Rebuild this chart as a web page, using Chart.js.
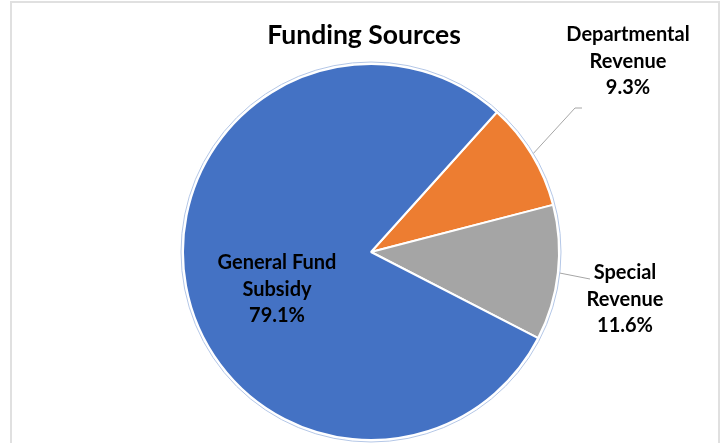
<!DOCTYPE html>
<html>
<head>
<meta charset="utf-8">
<script src="https://cdn.jsdelivr.net/npm/chart.js@4"></script>
<style>
  html, body { margin: 0; padding: 0; background: #fff; }
  #wrap { position: relative; width: 724px; height: 443px; overflow: hidden; }
  #frame {
    position: absolute; left: 10px; top: 1px; width: 706px; height: 460px;
    border: 2px solid #e0e0e0; border-bottom: none; pointer-events: none;
  }
  canvas { position: absolute; left: 0; top: 0; }
</style>
</head>
<body>
<div id="wrap">
  <canvas id="chart" width="724" height="443"></canvas>
  <div id="frame"></div>
</div>
<script>
const sources = ['Departmental Revenue', 'Special Revenue', 'General Fund Subsidy']
const shares = [9.3, 11.6, 79.1]
const sliceColors = ['#ED7D31', '#A5A5A5', '#4472C4']

// label blocks: lines of text, centre x, first line y
const labelBlocks = [
  { lines: ['Departmental', 'Revenue', '9.3%'], x: 628, y: 35, leader: [[575, 108], [582, 108]] },
  { lines: ['Special', 'Revenue', '11.6%'], x: 625, y: 273, leader: [[590, 279]] },
  { lines: ['General Fund', 'Subsidy', '79.1%'], x: 277, y: 263, leader: null }
]

const FONT = 'Lato, "Open Sans", sans-serif'

const decorations = {
  id: 'decorations',
  afterDatasetsDraw(chart) {
    const ctx = chart.ctx
    const arcs = chart.getDatasetMeta(0).data
    const a0 = arcs[0]

    // thin pale ring round the whole pie
    ctx.save()
    ctx.beginPath()
    ctx.arc(a0.x, a0.y, a0.outerRadius + 2, 0, Math.PI * 2)
    ctx.strokeStyle = '#b4c7e7'
    ctx.lineWidth = 1
    ctx.stroke()

    // title
    ctx.fillStyle = '#000'
    ctx.textAlign = 'center'
    ctx.textBaseline = 'middle'
    ctx.font = 'bold 26.5px ' + FONT
    ctx.fillText('Funding Sources', 364, 35)

    labelBlocks.forEach((b, i) => {
      const arc = arcs[i]
      if (b.leader) {
        const mid = (arc.startAngle + arc.endAngle) / 2
        const r = arc.outerRadius + 2
        ctx.beginPath()
        ctx.moveTo(arc.x + Math.cos(mid) * r, arc.y + Math.sin(mid) * r)
        b.leader.forEach(p => ctx.lineTo(p[0], p[1]))
        ctx.strokeStyle = '#a6a6a6'
        ctx.lineWidth = 1
        ctx.stroke()
      }
      ctx.font = 'bold 20px ' + FONT
      ctx.fillStyle = '#000'
      b.lines.forEach((t, k) => ctx.fillText(t, b.x, b.y + k * 26.5))
    })
    ctx.restore()
  }
}

new Chart(document.getElementById('chart'), {
  type: 'pie',
  data: {
    labels: sources,
    datasets: [{
      data: shares,
      backgroundColor: sliceColors,
      borderColor: '#ffffff',
      borderWidth: 2
    }]
  },
  options: {
    responsive: false,
    animation: false,
    rotation: 42,
    layout: { padding: { left: 182, right: 164, top: 63, bottom: 2 } },
    plugins: {
      legend: { display: false },
      tooltip: { enabled: false }
    }
  },
  plugins: [decorations]
})
</script>
</body>
</html>
